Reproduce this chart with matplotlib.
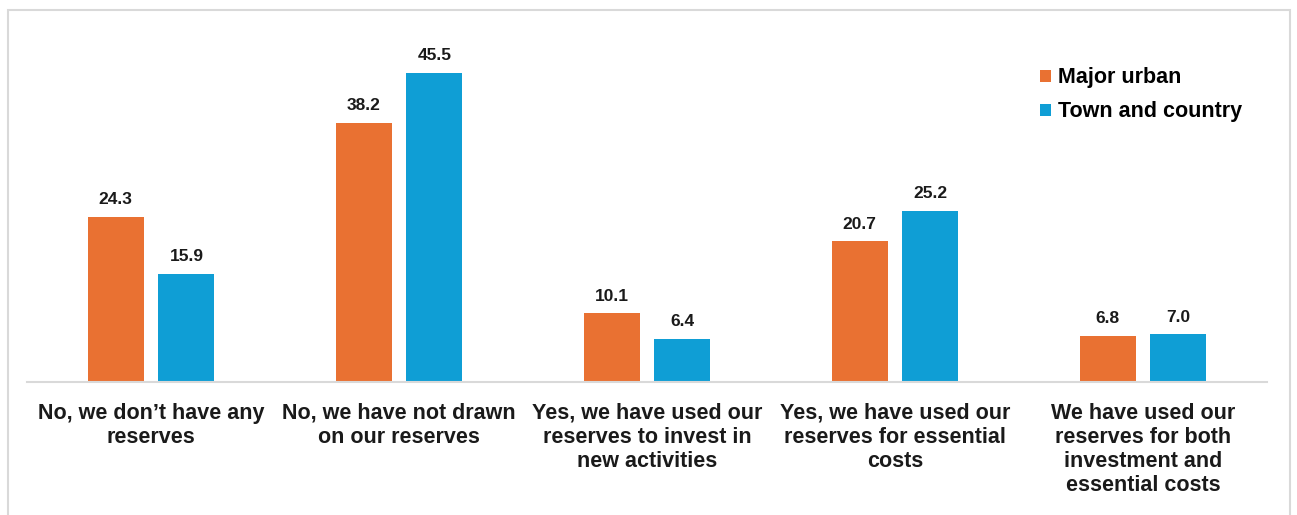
import matplotlib.pyplot as plt
from matplotlib.patches import Rectangle
import numpy as np

categories = [
    "No, we don\u2019t have any\nreserves",
    "No, we have not drawn\non our reserves",
    "Yes, we have used our\nreserves to invest in\nnew activities",
    "Yes, we have used our\nreserves for essential\ncosts",
    "We have used our\nreserves for both\ninvestment and\nessential costs",
]
major_urban = [24.3, 38.2, 10.1, 20.7, 6.8]
town_country = [15.9, 45.5, 6.4, 25.2, 7.0]
series_names = ["Major urban", "Town and country"]
colors = ["#E97132", "#0F9ED5"]

plt.rcParams['font.family'] = ['Liberation Sans', 'DejaVu Sans']

W, H = 1297, 515
fig = plt.figure(figsize=(W / 100, H / 100), dpi=100)
ax = fig.add_axes([27 / W, 1 - 382 / H, 1240 / W, (382 - 42.5) / H])

x = np.arange(len(categories))
width = 0.226
offset = 0.143
bars1 = ax.bar(x - offset, major_urban, width, color=colors[0], label=series_names[0])
bars2 = ax.bar(x + offset, town_country, width, color=colors[1], label=series_names[1])

for bars in (bars1, bars2):
    for b in bars:
        ax.annotate(f"{b.get_height():.1f}", (b.get_x() + b.get_width() / 2, b.get_height()),
                    xytext=(0, 7), textcoords="offset points", ha="center", va="bottom",
                    fontsize=12.5, fontweight="bold", color="#1a1a1a")

ax.set_xlim(-0.5, len(categories) - 0.5)
ax.set_ylim(0, 50)
ax.set_yticks([])
ax.set_xticks(x)
ax.set_xticklabels(categories, fontsize=15.5, fontweight="bold", color="#1a1a1a", linespacing=1.2)
ax.tick_params(axis="x", length=0, pad=15)
for s in ["top", "right", "left"]:
    ax.spines[s].set_visible(False)
ax.spines["bottom"].set_color("#d9d9d9")
ax.spines["bottom"].set_linewidth(1.5)

leg = ax.legend(loc="upper left", bbox_to_anchor=(1021 / W, 1 - 48 / H), bbox_transform=fig.transFigure,
                frameon=False, handlelength=0.5, handleheight=0.5,
                handletextpad=0.3, labelspacing=0.6, prop={"weight": "bold", "size": 15.5})

# outer frame around the whole chart
fig.patches.append(Rectangle((8 / W, -0.05), 1282 / W, 1.05 - 10 / H, transform=fig.transFigure,
                             fill=False, edgecolor="#d9d9d9", linewidth=1.5))

fig.savefig("out.png", dpi=100)
